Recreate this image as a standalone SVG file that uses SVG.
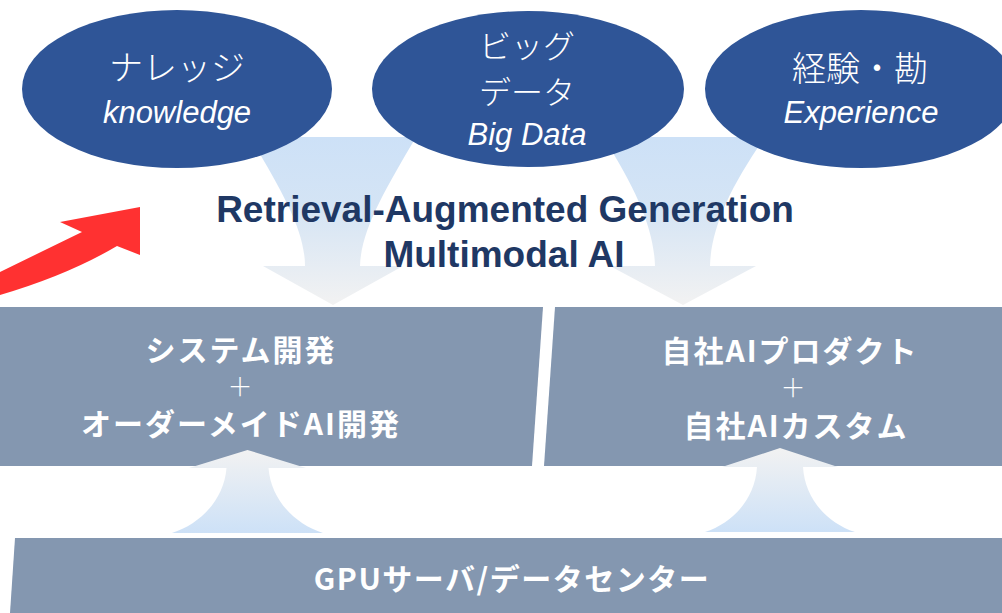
<svg xmlns="http://www.w3.org/2000/svg" width="1002" height="613" viewBox="0 0 1002 613">
  <defs>
    <linearGradient id="gradDown" x1="0" y1="0" x2="0" y2="1">
      <stop offset="0" stop-color="#CDE1F7"/>
      <stop offset="0.4" stop-color="#D4E4F5"/>
      <stop offset="1" stop-color="#F2F2F2"/>
    </linearGradient>
    <linearGradient id="gradUp" x1="0" y1="1" x2="0" y2="0">
      <stop offset="0" stop-color="#CDE1F7"/>
      <stop offset="1" stop-color="#F2F2F2"/>
    </linearGradient>
    <style>
      .source { fill: #2F5597; }
      .layer { fill: #8497B0; }
      .jp-light { font-family: "Noto Sans CJK JP", sans-serif; font-weight: 300; font-size: 34px; fill: #FFFFFF; text-anchor: middle; }
      .jp-light-tight { font-size: 32px; }
      .en-italic { font-family: "Liberation Sans", Arial, sans-serif; font-style: italic; font-size: 31px; fill: #FFFFFF; text-anchor: middle; }
      .title { font-family: "Liberation Sans", Arial, sans-serif; font-weight: bold; font-size: 37px; fill: #1F3864; text-anchor: middle; }
      .box-label { font-family: "Noto Sans CJK JP", sans-serif; font-weight: bold; font-size: 30px; letter-spacing: 2px; fill: #FFFFFF; text-anchor: middle; }
      .plus { font-family: "Noto Sans CJK JP", sans-serif; font-weight: 300; font-size: 25px; fill: #FFFFFF; text-anchor: middle; }
      .base-label { font-family: "Noto Sans CJK JP", sans-serif; font-weight: bold; font-size: 30px; letter-spacing: 1.5px; fill: #FFFFFF; text-anchor: middle; }
    </style>
  </defs>

  <rect width="1002" height="613" fill="#FFFFFF"/>

  <!-- flows: funnels from sources down into the layers, and the red trend arrow -->
  <g id="connectors">
    <path id="funnel-left" fill="url(#gradDown)" d="M 250 137 L 416 137 C 385 190 361 230 360 266 L 403 266 L 333 305 L 263 266 L 305 266 C 305 230 281 190 250 137 Z"/>
    <path id="funnel-right" fill="url(#gradDown)" d="M 603 137 L 765 137 C 728 190 711 230 710 266 L 756 266 L 683 305 L 610 266 L 655 266 C 654 230 637 190 603 137 Z"/>
    <path id="trend-arrow" fill="#FF3131" d="M 0 272 Q 45 250 82 232 L 60 222 L 140 207 L 140 255 L 117 246 Q 68 275 0 295 Z"/>
  </g>

  <g id="node-knowledge">
    <ellipse class="source" cx="177" cy="89" rx="155" ry="79"/>
    <text class="jp-light" x="177" y="80">ナレッジ</text>
    <text class="en-italic" x="177" y="123">knowledge</text>
  </g>

  <g id="node-bigdata">
    <ellipse class="source" cx="528" cy="89" rx="156" ry="78"/>
    <text class="jp-light jp-light-tight" x="527" y="58">ビッグ</text>
    <text class="jp-light jp-light-tight" x="527" y="104">データ</text>
    <text class="en-italic" x="527" y="145">Big Data</text>
  </g>

  <g id="node-experience">
    <ellipse class="source" cx="861" cy="89" rx="156" ry="79"/>
    <text class="jp-light" x="860" y="81">経験・勘</text>
    <text class="en-italic" x="861" y="123">Experience</text>
  </g>

  <g id="node-title">
    <text class="title" x="505" y="222">Retrieval-Augmented Generation</text>
    <text class="title" x="504" y="267">Multimodal AI</text>
  </g>

  <g id="node-development">
    <polygon class="layer" points="0,307 543,307 532,466 0,466"/>
    <text class="box-label" x="241" y="361">システム開発</text>
    <text class="plus" x="240" y="396">＋</text>
    <text class="box-label" x="241" y="435">オーダーメイドAI開発</text>
  </g>

  <g id="node-products">
    <polygon class="layer" points="555,307 1002,307 1002,466 544,466"/>
    <text class="box-label" x="790" y="362">自社AIプロダクト</text>
    <text class="plus" x="793" y="397">＋</text>
    <text class="box-label" x="796" y="437">自社AIカスタム</text>
  </g>

  <!-- lifts from the infrastructure base up into the layers -->
  <g id="connectors-up">
    <path id="lift-left" fill="url(#gradUp)" d="M 172 533 C 200 524 224 500 226.5 468 L 189 468 L 247.5 450 L 306 468 L 268.5 468 C 271 500 295 524 323 533 Z"/>
    <path id="lift-right" fill="url(#gradUp)" d="M 705 532 C 733 523 755 499 757 467 L 722 467 L 780 448 L 838 467 L 803 467 C 805 499 827 523 855 532 Z"/>
  </g>

  <g id="node-infrastructure">
    <polygon class="layer" points="15,538 1002,538 1002,613 10,613"/>
    <text class="base-label" x="512" y="590">GPUサーバ/データセンター</text>
  </g>
</svg>
